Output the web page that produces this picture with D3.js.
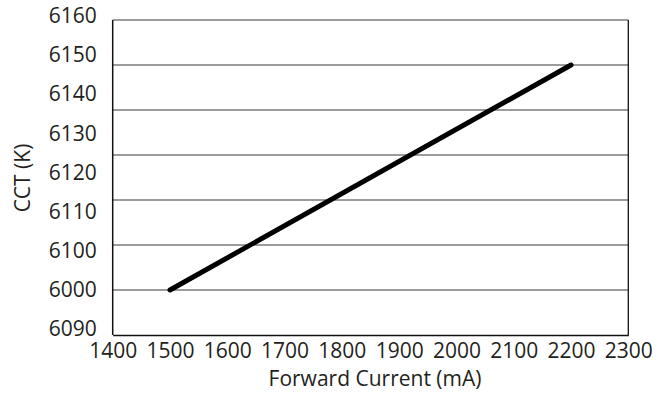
<!DOCTYPE html>
<html>
<head>
<meta charset="utf-8">
<script src="https://cdn.jsdelivr.net/npm/d3@7"></script>
<style>
  body { margin: 0; background: #fff; }
  text { font-family: "Open Sans", sans-serif; fill: #231f20; }
</style>
</head>
<body>
<script>
// values
const currentTicks = [1400, 1500, 1600, 1700, 1800, 1900, 2000, 2100, 2200, 2300]
const gridValues = [6090, 6100, 6110, 6120, 6130, 6140, 6150, 6160]
// the y labels as printed (including the "6000" misprint), bottom to top
const cctLabels = ["6090", "6000", "6100", "6110", "6120", "6130", "6140", "6150", "6160"]
const lineCurrent = [1500, 2200]
const lineCCT = [6100, 6150]

const W = 658, H = 398
const margin = { top: 20, left: 112.7, right: 29.7, bottom: 63 }
const width = W - margin.left - margin.right
const height = H - margin.top - margin.bottom

const svg = d3.select("body").append("svg")
    .attr("width", W)
    .attr("height", H)

const g = svg.append("g")
    .attr("transform", "translate(" + margin.left + "," + margin.top + ")")

const x = d3.scaleLinear().domain([1400, 2300]).range([0, width])
const y = d3.scaleLinear().domain([6090, 6160]).range([height, 0])
// labels are spaced on their own, not on the grid
const yLab = d3.scalePoint().domain(cctLabels).range([329 - margin.top, 16 - margin.top])

// grid lines
g.append("g")
    .selectAll("line")
    .data(gridValues.slice(1))
  .enter().append("line")
    .attr("x1", 0)
    .attr("x2", width)
    .attr("y1", d => y(d))
    .attr("y2", d => y(d))
    .attr("stroke", "#3a3a3a")
    .attr("stroke-width", 1.2)

// right border
g.append("line")
    .attr("x1", width).attr("x2", width)
    .attr("y1", 0).attr("y2", height)
    .attr("stroke", "#111")
    .attr("stroke-width", 1.3)

// x axis
const xAxis = d3.axisBottom(x)
    .tickValues(currentTicks)
    .tickSize(0)
    .tickPadding(8)
    .tickFormat(d3.format("d"))

const gx = g.append("g")
    .attr("transform", "translate(0," + height + ")")
    .call(xAxis)
gx.select(".domain").attr("stroke", "#111").attr("stroke-width", 1.5)
gx.selectAll("text")
    .attr("font-size", 21)
    .attr("font-family", "Open Sans")
    .attr("fill", "#231f20")

// y axis
const yAxis = d3.axisLeft(yLab)
    .tickSize(0)
    .tickPadding(16)

const gy = g.append("g").call(yAxis)
gy.select(".domain").remove()
gy.selectAll("text")
    .attr("font-size", 21)
    .attr("font-family", "Open Sans")
    .attr("fill", "#231f20")

g.append("line")
    .attr("x1", 0).attr("x2", 0)
    .attr("y1", 0).attr("y2", height)
    .attr("stroke", "#111")
    .attr("stroke-width", 1.5)

// the CCT line
const pts = lineCurrent.map((c, i) => [c, lineCCT[i]])
g.append("path")
    .datum(pts)
    .attr("fill", "none")
    .attr("stroke", "#000")
    .attr("stroke-width", 5)
    .attr("stroke-linecap", "round")
    .attr("d", d3.line().x(d => x(d[0])).y(d => y(d[1])))

// axis titles
svg.append("text")
    .attr("x", 375)
    .attr("y", 386)
    .attr("text-anchor", "middle")
    .attr("font-size", 21)
    .text("Forward Current (mA)")

svg.append("text")
    .attr("transform", "translate(30,178) rotate(-90)")
    .attr("text-anchor", "middle")
    .attr("font-size", 21)
    .text("CCT (K)")
</script>
</body>
</html>
